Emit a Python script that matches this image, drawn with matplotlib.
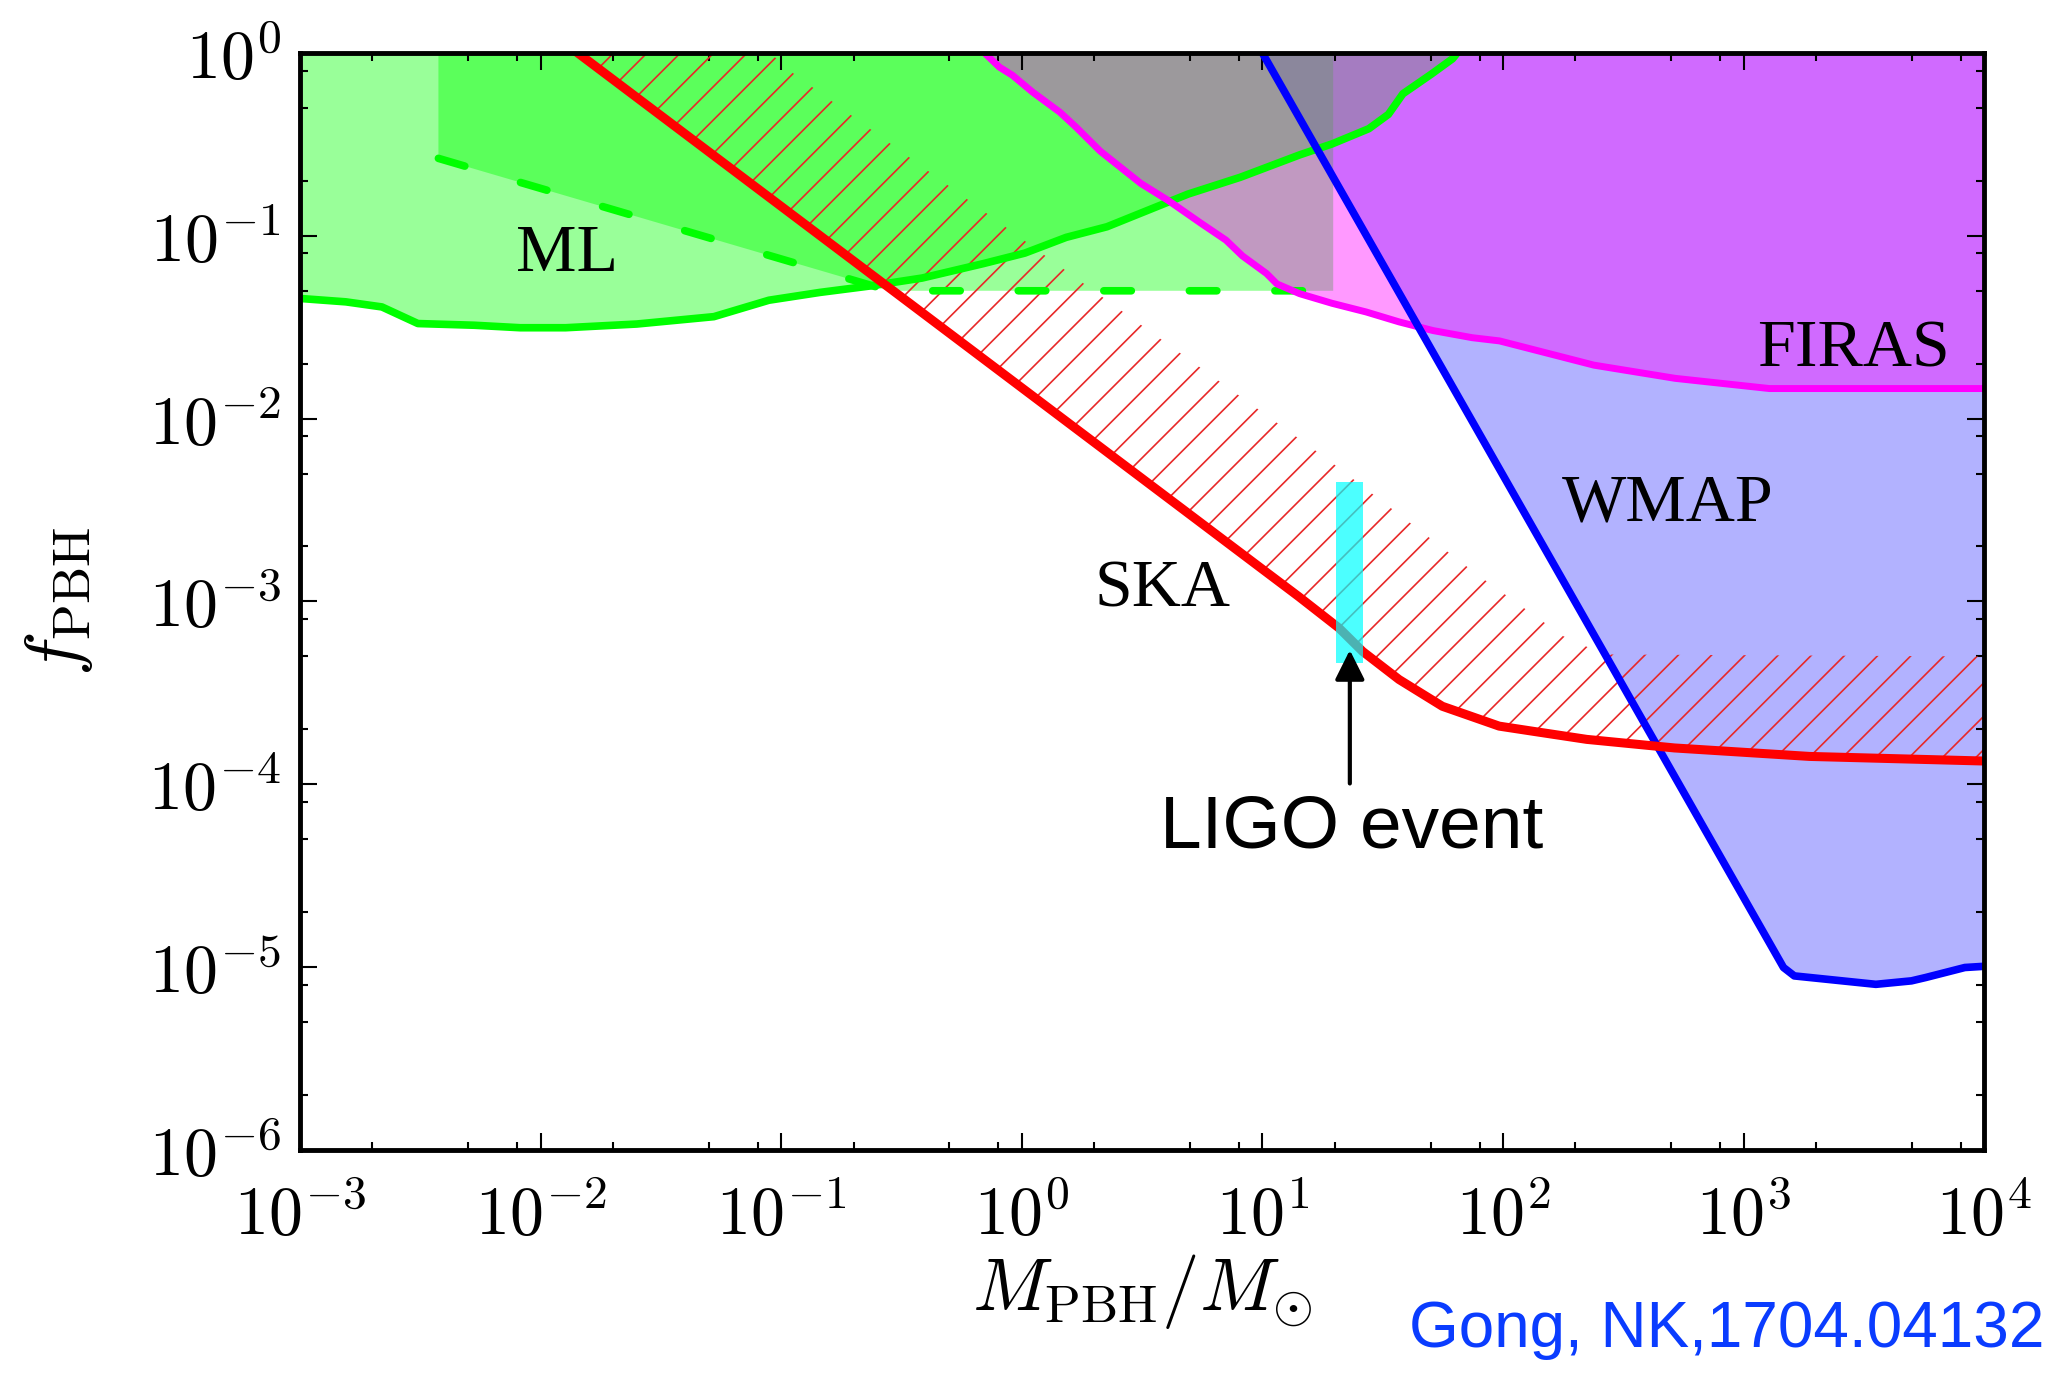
import matplotlib.pyplot as plt
import numpy as np
from matplotlib.ticker import LogLocator, FuncFormatter, NullFormatter

# ── Data (M in solar masses, f = f_PBH) ────────────────────────────────────────
# Microlensing (solid green), lower edge of the shaded ML region
ml_m = [1.0e-3, 1.55e-3, 2.19e-3, 3.09e-3, 5.30e-3, 8.22e-3, 0.0127, 0.0251,
        0.0525, 0.0889, 0.145, 0.236, 0.385, 0.695, 1.03, 1.53, 2.26, 4.91,
        8.11, 14.3, 19.5, 27.7, 33.4, 38.4, 50.5, 61.7, 64.6]
ml_f = [0.0454, 0.0435, 0.0408, 0.0331, 0.0324, 0.0314, 0.0314, 0.0329,
        0.0361, 0.0444, 0.0490, 0.0532, 0.0587, 0.0705, 0.0804, 0.0980, 0.112,
        0.169, 0.209, 0.277, 0.318, 0.385, 0.461, 0.598, 0.767, 0.929, 1.0]

# Second microlensing bound (dashed green)
mld_m = [3.76e-3, 0.282, 19.7]
mld_f = [0.265, 0.05, 0.05]

# FIRAS (magenta)
firas_m = [0.700, 0.807, 0.914, 1.11, 1.44, 1.68, 2.12, 3.13, 4.06, 5.56, 7.06,
           8.26, 10.4, 11.5, 14.3, 19.5, 27.0, 37.0, 51.2, 74.5, 96.8, 239,
           520, 1280, 1.0e4]
firas_f = [1.0, 0.836, 0.755, 0.610, 0.474, 0.393, 0.290, 0.193, 0.156, 0.117,
           0.0946, 0.0776, 0.0622, 0.0545, 0.0482, 0.0427, 0.0383, 0.0338,
           0.0303, 0.0277, 0.0266, 0.0196, 0.0166, 0.0146, 0.0146]

# WMAP (blue)
wmap_m = [10.0, 1466, 1626, 3548, 4990, 5715, 8318, 1.0e4]
wmap_f = [1.0, 9.95e-6, 8.95e-6, 8.05e-6, 8.41e-6, 8.77e-6, 9.95e-6, 1.01e-5]

# SKA forecast (red line) and upper edge of the hatched band
ska_m = [0.01426, 14.2, 20.8, 26.1, 37.0, 56.0, 96.4, 133, 223, 516, 1879, 1.0e4]
ska_f = [1.0, 1.06e-3, 7.16e-4, 5.33e-4, 3.74e-4, 2.67e-4, 2.08e-4, 1.95e-4,
         1.76e-4, 1.58e-4, 1.42e-4, 1.34e-4]
ska_up_m = [0.0900, 0.108, 1.80, 18.4, 78.9, 178, 263, 1.0e4]
ska_up_f = [1.0, 0.802, 0.0550, 6.07e-3, 1.39e-3, 6.46e-4, 5.13e-4, 5.0e-4]

# LIGO event band
ligo_m = [20.3, 26.1]
ligo_f = [4.6e-4, 4.5e-3]
ligo_arrow_m = 23.1
ligo_arrow_f = [1.01e-4, 5.42e-4]

plt.rcParams['mathtext.fontset'] = 'cm'
plt.rcParams['hatch.linewidth'] = 1.2

fig = plt.figure(figsize=(20.55, 13.78), dpi=100)
ax = fig.add_axes([0.146, 0.1655, 0.8195, 0.7961])
ax.set_xscale('log')
ax.set_yscale('log')
ax.set_xlim(1e-3, 1e4)
ax.set_ylim(1e-6, 1)

# ── Shaded regions (translucent, order matters for the mixed colours) ─────────
ax.fill(wmap_m + [wmap_m[-1]], wmap_f + [1.0], color=(0, 0, 1), alpha=0.3, lw=0)
ax.fill([ml_m[0]] + ml_m, [1.0] + ml_f, color=(0, 1, 0), alpha=0.4, lw=0)
ax.fill([mld_m[0]] + mld_m + [mld_m[-1]], [1.0] + mld_f + [1.0],
        color=(0, 1, 0), alpha=0.4, lw=0)
ax.fill(firas_m + [firas_m[-1]], firas_f + [1.0], color=(1, 0, 1), alpha=0.4, lw=0)

# SKA hatched band
ax.fill(ska_up_m + ska_m[::-1], ska_up_f + ska_f[::-1], facecolor='none',
        edgecolor='#E82828', hatch='/', lw=0, zorder=2)

# ── Boundary lines ────────────────────────────────────────────────────────────
ax.plot(ml_m, ml_f, color='#00FF00', lw=5.5, zorder=3)
ax.plot(mld_m, mld_f, color='#00FF00', lw=5.5, dashes=(3.6, 7.6),
        dash_capstyle='round', zorder=3)
ax.plot(firas_m, firas_f, color='#FF00FF', lw=5, zorder=3)
ax.plot(wmap_m, wmap_f, color='#0000FF', lw=5.5, zorder=3)
ax.plot(ska_m, ska_f, color='#FF0000', lw=6.5, zorder=3)

# LIGO band and arrow
ax.fill_between(ligo_m, ligo_f[0], ligo_f[1], color='cyan', alpha=0.7, lw=0,
                zorder=4)
ax.annotate('', xy=(ligo_arrow_m, ligo_arrow_f[1]),
            xytext=(ligo_arrow_m, ligo_arrow_f[0]),
            arrowprops=dict(arrowstyle='-|>,head_length=0.9,head_width=0.45',
                            lw=3, color='black', shrinkA=0, shrinkB=0,
                            mutation_scale=20), zorder=5)

# ── Labels inside the plot ────────────────────────────────────────────────────
serif = 'Liberation Serif'
ax.text(0.0129, 0.079, 'ML', fontsize=49, family=serif, ha='center', va='center')
ax.text(3.86, 1.16e-3, 'SKA', fontsize=49, family=serif, ha='center', va='center')
ax.text(482, 3.39e-3, 'WMAP', fontsize=49, family=serif, ha='center', va='center')
ax.text(2857, 0.0237, 'FIRAS', fontsize=49, family=serif, ha='center', va='center')
ax.text(23.5, 5.74e-5, 'LIGO event', fontsize=54, family='Liberation Sans',
        ha='center', va='center')

# ── Axes formatting ───────────────────────────────────────────────────────────
fmt = FuncFormatter(lambda v, p: r'$10^{%d}$' % int(round(np.log10(v))))
for axis in (ax.xaxis, ax.yaxis):
    axis.set_major_locator(LogLocator(base=10, numticks=20))
    axis.set_minor_locator(LogLocator(base=10, subs=(2, 5, 8), numticks=20))
    axis.set_minor_formatter(NullFormatter())
    axis.set_major_formatter(fmt)

ax.tick_params(which='both', direction='in', top=True, right=True, width=1.5)
ax.tick_params(which='major', length=12.5, labelsize=49)
ax.tick_params(which='minor', length=6)
ax.tick_params(axis='x', pad=24)
ax.tick_params(axis='y', pad=14)
for s in ax.spines.values():
    s.set_linewidth(3.5)
    s.set_zorder(6)

ax.set_xlabel(r'$M_{\rm PBH}/M_{\odot}$', fontsize=54)
ax.set_ylabel(r'$f_{\rm PBH}$', fontsize=54)
ax.xaxis.set_label_coords(0.5, -0.093)
ax.yaxis.set_label_coords(-0.122, 0.5)

fig.text(0.995, 0.035, 'Gong, NK,1704.04132', color='#0A3CFF', fontsize=46,
         family='Liberation Sans', ha='right', va='center')

fig.savefig('out.png', dpi=100)
